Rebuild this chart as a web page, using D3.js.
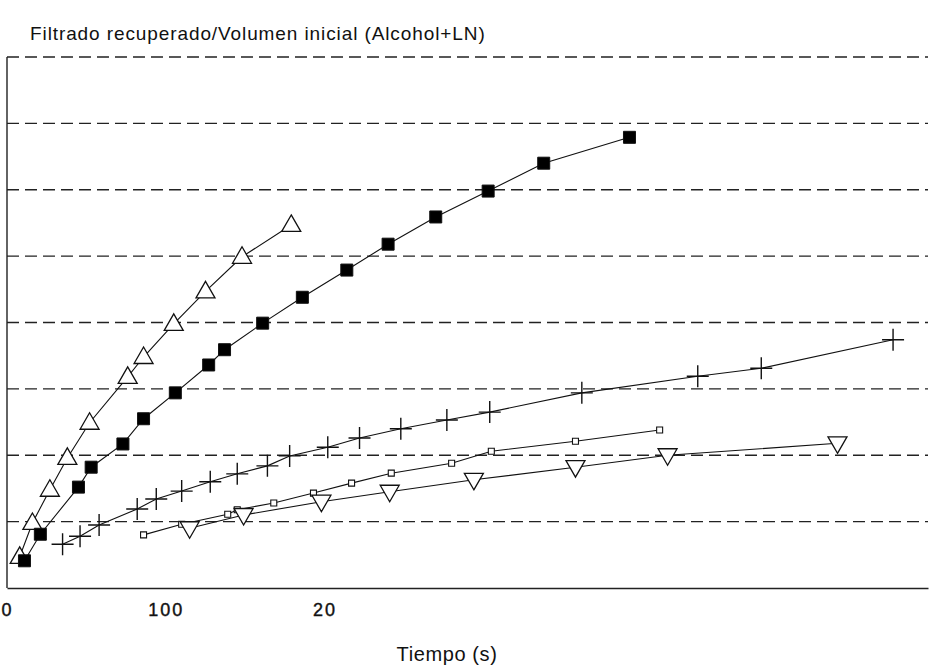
<!DOCTYPE html>
<html>
<head>
<meta charset="utf-8">
<script src="https://cdn.jsdelivr.net/npm/d3@7"></script>
<style>
    body { margin: 0; background: #fff; }
    text { font-family: "Liberation Sans", Arial, sans-serif; fill: #111; }
</style>
</head>
<body>
<div id="chart"></div>
<script>
// tiempo (s) / filtrado recuperado por volumen inicial
var upTriX = [8, 16, 27, 38, 52, 76, 86, 105, 125, 148, 179];
var upTriY = [0.047, 0.098, 0.148, 0.196, 0.249, 0.318, 0.348, 0.398, 0.447, 0.499, 0.547];

var squareX = [11, 21, 45, 53, 73, 86, 106, 127, 137, 161, 186, 214, 240, 270, 303, 338, 392];
var squareY = [0.041, 0.081, 0.152, 0.182, 0.217, 0.255, 0.294, 0.336, 0.359, 0.399, 0.438, 0.479, 0.518, 0.559, 0.598, 0.640, 0.679];

var plusX = [35, 46, 58, 82, 94, 110, 128, 145, 164, 178, 202, 222, 248, 277, 304, 362, 435, 475, 558];
var plusY = [0.066, 0.078, 0.095, 0.119, 0.134, 0.146, 0.160, 0.172, 0.184, 0.199, 0.212, 0.226, 0.240, 0.253, 0.265, 0.294, 0.319, 0.331, 0.374];

var smallX = [86, 110, 139, 145, 168, 193, 217, 242, 280, 305, 358, 411];
var smallY = [0.080, 0.096, 0.111, 0.118, 0.128, 0.143, 0.158, 0.173, 0.188, 0.206, 0.221, 0.238];

var downTriX = [115, 149, 198, 241, 294, 358, 416, 523];
var downTriY = [0.090, 0.110, 0.130, 0.145, 0.163, 0.182, 0.200, 0.218];

var xTicks = [0, 100, 200];
var xTickLabels = ["0", "100", "20"];
var yGrid = [0.1, 0.2, 0.3, 0.4, 0.5, 0.6, 0.7, 0.8];

(function () {
    var width = 930, height = 667;
    var mLeft = 7, mRight = 928, mTop = 57, mBottom = 588;

    var svg = d3.select("#chart").append("svg")
        .attr("width", width)
        .attr("height", height);

    var x = d3.scaleLinear().domain([0, 580]).range([mLeft, mRight]);
    var y = d3.scaleLinear().domain([0, 0.8]).range([mBottom, mTop]);

    // title
    svg.append("text")
        .attr("x", 30)
        .attr("y", 40)
        .style("font-size", "19px")
        .style("letter-spacing", "0.9px")
        .text("Filtrado recuperado/Volumen inicial (Alcohol+LN)");

    // dashed grid
    svg.selectAll(".grid")
        .data(yGrid)
        .enter()
        .append("line")
        .attr("class", "grid")
        .attr("x1", mLeft)
        .attr("x2", mRight)
        .attr("y1", function (d) { return y(d); })
        .attr("y2", function (d) { return y(d); })
        .attr("stroke", "#222")
        .attr("stroke-width", 1.3)
        .attr("stroke-dasharray", "12,6");

    // frame: left side only, bottom comes from the axis
    svg.append("line")
        .attr("x1", mLeft).attr("x2", mLeft)
        .attr("y1", mTop).attr("y2", mBottom)
        .attr("stroke", "#222").attr("stroke-width", 1.4);

    var xAxis = d3.axisBottom(x)
        .tickValues(xTicks)
        .tickSize(0)
        .tickFormat(function (d, i) { return xTickLabels[i]; });

    var gx = svg.append("g")
        .attr("transform", "translate(0," + mBottom + ")")
        .call(xAxis);
    gx.select(".domain").attr("stroke", "#222").attr("stroke-width", 1.4);
    gx.selectAll("text")
        .attr("dy", "0")
        .attr("y", 28)
        .attr("font-family", null)
        .attr("font-size", null)
        .style("font-size", "18px")
        .style("letter-spacing", "2px")
        .style("stroke", "#111")
        .style("stroke-width", 0.4)
        .style("fill", "#111");

    svg.append("text")
        .attr("x", 447)
        .attr("y", 661)
        .attr("text-anchor", "middle")
        .style("font-size", "20px")
        .style("letter-spacing", "0.6px")
        .text("Tiempo (s)");

    var line = d3.line()
        .x(function (d) { return x(d[0]); })
        .y(function (d) { return y(d[1]); });

    function pairs(xs, ys) {
        return xs.map(function (v, i) { return [v, ys[i]]; });
    }

    var series = [
        {name: "upTri", data: pairs(upTriX, upTriY), shape: "M0,-10L9.5,6.5L-9.5,6.5Z", fill: "#fff", sw: 1.3},
        {name: "square", data: pairs(squareX, squareY), shape: "M-6,-6H6V6H-6Z", fill: "#000", sw: 1},
        {name: "plus", data: pairs(plusX, plusY), shape: "M-11,0H11M0,-11V11", fill: "none", sw: 1.4},
        {name: "small", data: pairs(smallX, smallY), shape: "M-3,-3H3V3H-3Z", fill: "#fff", sw: 1.1},
        {name: "downTri", data: pairs(downTriX, downTriY), shape: "M0,10L9.5,-6.5L-9.5,-6.5Z", fill: "#fff", sw: 1.3}
    ];

    series.forEach(function (s) {
        svg.append("path")
            .datum(s.data)
            .attr("fill", "none")
            .attr("stroke", "#111")
            .attr("stroke-width", 1.1)
            .attr("d", line);
    });

    series.forEach(function (s) {
        svg.selectAll(".m-" + s.name)
            .data(s.data)
            .enter()
            .append("path")
            .attr("class", "m-" + s.name)
            .attr("transform", function (d) { return "translate(" + x(d[0]) + "," + y(d[1]) + ")"; })
            .attr("d", s.shape)
            .attr("fill", s.fill)
            .attr("stroke", "#111")
            .attr("stroke-width", s.sw);
    });
})();
</script>
</body>
</html>
